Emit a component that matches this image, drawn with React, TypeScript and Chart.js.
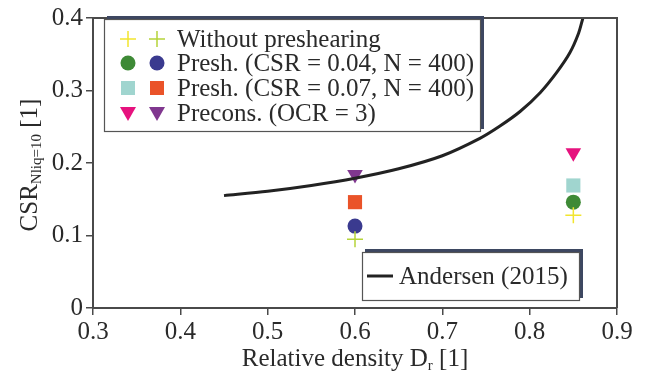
import React, { useEffect, useRef } from "react";
import { Chart, registerables } from "chart.js";

Chart.register(...registerables);

// ---- data ----
const drValues = [0.6, 0.85];
const withoutPreshearing = [0.095, 0.128];
const presh004 = [0.113, 0.146];
const presh007 = [0.146, 0.169];
const precons = [0.184, 0.214];

const andersenDr = [0.45, 0.5, 0.55, 0.6, 0.65, 0.7, 0.743, 0.766, 0.789, 0.812, 0.831, 0.846, 0.856, 0.861, 0.866];
const andersenCsr = [0.155, 0.161, 0.169, 0.179, 0.192, 0.21, 0.234, 0.251, 0.271, 0.297, 0.325, 0.352, 0.379, 0.4, 0.42];

const xTicks = [0.3, 0.4, 0.5, 0.6, 0.7, 0.8, 0.9];
const yTicks = [0, 0.1, 0.2, 0.3, 0.4];

const legendLabels = [
  "Without preshearing",
  "Presh. (CSR = 0.04, N = 400)",
  "Presh. (CSR = 0.07, N = 400)",
  "Precons. (OCR = 3)",
];
const andersenLabel = "Andersen (2015)";

// colours: [Dr = 0.6, Dr = 0.85]
const colWithout = ["#b5d43a", "#f2e52e"];
const col004 = ["#3a3a8f", "#3e8a36"];
const col007 = ["#ea5329", "#a0d5cf"];
const colPrecons = ["#80378f", "#e6127e"];

const FONT = "'Liberation Serif', 'Times New Roman', serif";
const TEXT = "#2a2a2a";
const AXIS = "#4a4a4a";

function pts(ys: number[]) {
  return drValues.map((x, i) => ({ x, y: ys[i] }));
}

type Shape = "plus" | "circle" | "square" | "tri";

function drawShape(ctx: CanvasRenderingContext2D, shape: Shape, x: number, y: number, color: string) {
  ctx.save();
  ctx.fillStyle = color;
  ctx.strokeStyle = color;
  if (shape === "plus") {
    ctx.lineWidth = 1.5;
    ctx.beginPath();
    ctx.moveTo(x - 8, y);
    ctx.lineTo(x + 8, y);
    ctx.moveTo(x, y - 8);
    ctx.lineTo(x, y + 8);
    ctx.stroke();
  } else if (shape === "circle") {
    ctx.beginPath();
    ctx.arc(x, y, 7.5, 0, Math.PI * 2);
    ctx.fill();
  } else if (shape === "square") {
    ctx.fillRect(x - 7, y - 7, 14, 14);
  } else {
    ctx.beginPath();
    ctx.moveTo(x - 8, y - 6);
    ctx.lineTo(x + 8, y - 6);
    ctx.lineTo(x, y + 8);
    ctx.closePath();
    ctx.fill();
  }
  ctx.restore();
}

function shadowBox(ctx: CanvasRenderingContext2D, x1: number, y1: number, x2: number, y2: number) {
  ctx.save();
  ctx.fillStyle = "#3d4761";
  ctx.fillRect(x1 + 3, y1 - 3, x2 - x1, y2 - y1);
  ctx.fillStyle = "#ffffff";
  ctx.fillRect(x1, y1, x2 - x1, y2 - y1);
  ctx.strokeStyle = "#555";
  ctx.lineWidth = 1.2;
  ctx.strokeRect(x1 + 0.5, y1 + 0.5, x2 - x1 - 1, y2 - y1 - 1);
  ctx.restore();
}

const decorPlugin = {
  id: "decor",
  afterDraw(chart: any) {
    const ctx: CanvasRenderingContext2D = chart.ctx;
    const a = chart.chartArea;
    ctx.save();
    // frame top & right
    ctx.strokeStyle = AXIS;
    ctx.lineWidth = 2;
    ctx.beginPath();
    ctx.moveTo(a.left, a.top);
    ctx.lineTo(a.right, a.top);
    ctx.lineTo(a.right, a.bottom);
    ctx.stroke();

    // main legend
    shadowBox(ctx, 104, 19, 481, 132);
    const shapes: Shape[] = ["plus", "circle", "square", "tri"];
    const cols = [colWithout, col004, col007, colPrecons];
    const rowY = [39, 63, 88, 113];
    ctx.font = `25px ${FONT}`;
    ctx.fillStyle = TEXT;
    ctx.textBaseline = "middle";
    ctx.textAlign = "left";
    for (let i = 0; i < 4; i++) {
      drawShape(ctx, shapes[i], 128, rowY[i], cols[i][1]);
      drawShape(ctx, shapes[i], 157, rowY[i], cols[i][0]);
      ctx.fillStyle = TEXT;
      ctx.fillText(legendLabels[i], 177, rowY[i] + 1);
    }

    // Andersen legend
    shadowBox(ctx, 362, 252, 580, 301);
    ctx.strokeStyle = "#222";
    ctx.lineWidth = 3;
    ctx.beginPath();
    ctx.moveTo(367, 276);
    ctx.lineTo(393, 276);
    ctx.stroke();
    ctx.fillStyle = TEXT;
    ctx.fillText(andersenLabel, 399, 277);

    // x title
    const main = "Relative density D";
    const sub = "r";
    const tail = " [1]";
    ctx.font = `25px ${FONT}`;
    const wMain = ctx.measureText(main).width;
    const wTail = ctx.measureText(tail).width;
    ctx.font = `15px ${FONT}`;
    const wSub = ctx.measureText(sub).width;
    const total = wMain + wSub + wTail;
    let x0 = (a.left + a.right) / 2 - total / 2;
    const base = 366;
    ctx.textBaseline = "alphabetic";
    ctx.font = `25px ${FONT}`;
    ctx.fillText(main, x0, base);
    ctx.font = `15px ${FONT}`;
    ctx.fillText(sub, x0 + wMain, base + 4);
    ctx.font = `25px ${FONT}`;
    ctx.fillText(tail, x0 + wMain + wSub, base);

    // y title
    ctx.save();
    ctx.translate(37, (a.top + a.bottom) / 2 + 2);
    ctx.rotate(-Math.PI / 2);
    const yMain = "CSR";
    const ySub = "Nliq=10";
    const yTail = " [1]";
    ctx.font = `25px ${FONT}`;
    const w1 = ctx.measureText(yMain).width;
    const w3 = ctx.measureText(yTail).width;
    ctx.font = `15px ${FONT}`;
    const w2 = ctx.measureText(ySub).width;
    const tot = w1 + w2 + w3;
    let s = -tot / 2;
    ctx.font = `25px ${FONT}`;
    ctx.fillText(yMain, s, 0);
    ctx.font = `15px ${FONT}`;
    ctx.fillText(ySub, s + w1, 4);
    ctx.font = `25px ${FONT}`;
    ctx.fillText(yTail, s + w1 + w2, 0);
    ctx.restore();

    ctx.restore();
  },
};

export default function App() {
  const ref = useRef<HTMLCanvasElement | null>(null);
  useEffect(() => {
    if (!ref.current) return;
    const fmt = (v: any) => {
      const n = Number(Number(v).toFixed(1));
      return n === 0 ? "0" : n.toFixed(1);
    };
    const chart = new Chart(ref.current, {
      type: "scatter",
      data: {
        datasets: [
          {
            type: "line",
            label: andersenLabel,
            data: andersenDr.map((x, i) => ({ x, y: andersenCsr[i] })),
            borderColor: "#222",
            borderWidth: 3,
            pointRadius: 0,
            tension: 0.3,
            fill: false,
          } as any,
          {
            label: legendLabels[0],
            data: pts(withoutPreshearing),
            pointStyle: "cross",
            pointRadius: 8,
            borderWidth: 1.5,
            borderColor: colWithout,
            backgroundColor: colWithout,
          },
          {
            label: legendLabels[1],
            data: pts(presh004),
            pointStyle: "circle",
            pointRadius: 7.5,
            borderWidth: 0,
            backgroundColor: col004,
            borderColor: col004,
          },
          {
            label: legendLabels[2],
            data: pts(presh007),
            pointStyle: "rect",
            pointRadius: 10,
            borderWidth: 0,
            backgroundColor: col007,
            borderColor: col007,
          },
          {
            label: legendLabels[3],
            data: pts(precons),
            pointStyle: "triangle",
            rotation: 180,
            pointRadius: 9,
            borderWidth: 0,
            backgroundColor: colPrecons,
            borderColor: colPrecons,
          },
        ],
      },
      options: {
        animation: false,
        responsive: false,
        events: [],
        layout: { padding: { left: 0, top: 15, right: 32, bottom: 0 } },
        plugins: { legend: { display: false }, tooltip: { enabled: false } },
        scales: {
          x: {
            type: "linear",
            min: xTicks[0],
            max: xTicks[xTicks.length - 1],
            afterFit: (s: any) => {
              s.height = 77;
            },
            afterBuildTicks: (s: any) => {
              s.ticks = xTicks.map((v) => ({ value: v }));
            },
            ticks: {
              callback: fmt,
              font: { family: FONT, size: 25 },
              color: TEXT,
              padding: 2,
              maxRotation: 0,
            },
            grid: { drawOnChartArea: false, drawTicks: true, tickLength: 7, color: AXIS, lineWidth: 1.5 },
            border: { display: true, color: AXIS, width: 2 },
          },
          y: {
            type: "linear",
            min: yTicks[0],
            max: yTicks[yTicks.length - 1],
            afterFit: (s: any) => {
              s.width = 93;
            },
            afterBuildTicks: (s: any) => {
              s.ticks = yTicks.map((v) => ({ value: v }));
            },
            ticks: {
              callback: fmt,
              font: { family: FONT, size: 25 },
              color: TEXT,
              padding: 3,
            },
            grid: { drawOnChartArea: false, drawTicks: true, tickLength: 7, color: AXIS, lineWidth: 1.5 },
            border: { display: true, color: AXIS, width: 2 },
          },
        },
      },
      plugins: [decorPlugin],
    } as any);
    return () => chart.destroy();
  }, []);
  return (
    <div style={{ position: "fixed", left: 0, top: 0, width: 649, height: 385, background: "#fff" }}>
      <canvas ref={ref} width={649} height={385} />
    </div>
  );
}
